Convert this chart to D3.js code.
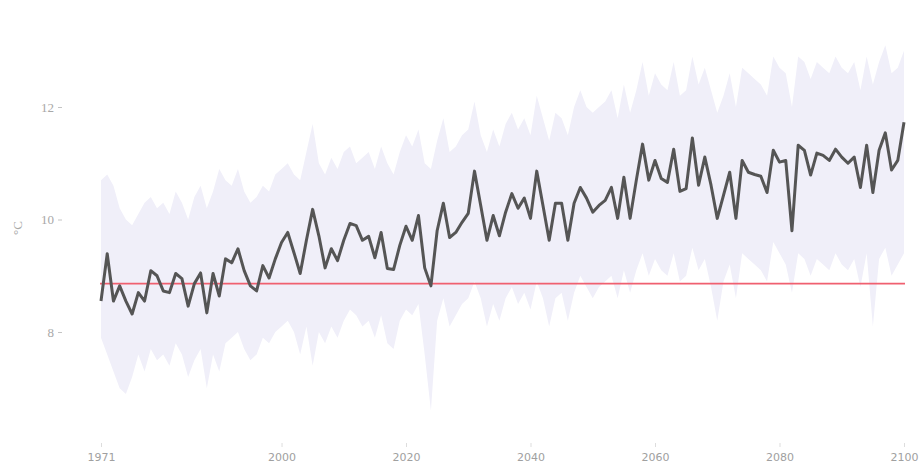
<!DOCTYPE html>
<html>
<head>
<meta charset="utf-8">
<script src="https://cdn.jsdelivr.net/npm/d3@7"></script>
<style>
  body { margin: 0; background: #fff; }
  #chart svg { display: block; }
</style>
</head>
<body>
<div id="chart"></div>
<script>
// yearly mean temperature (°C), 1971 - 2100
const firstYear = 1971;
const meanTemp = [
  8.55, 9.39, 8.55, 8.82, 8.55, 8.32, 8.70, 8.55, 9.09, 9.00,
  8.73, 8.70, 9.04, 8.95, 8.46, 8.86, 9.05, 8.34, 9.04, 8.64,
  9.30, 9.23, 9.48, 9.09, 8.82, 8.73, 9.18, 8.96, 9.30, 9.59,
  9.77, 9.41, 9.04, 9.63, 10.18, 9.71, 9.14, 9.48, 9.27, 9.63,
  9.93, 9.89, 9.63, 9.70, 9.32, 9.77, 9.13, 9.11, 9.54, 9.88,
  9.63, 10.07, 9.14, 8.82, 9.80, 10.29, 9.68, 9.77, 9.95, 10.11,
  10.86, 10.25, 9.63, 10.07, 9.71, 10.13, 10.46, 10.20, 10.38, 10.02,
  10.86, 10.25, 9.63, 10.29, 10.29, 9.63, 10.29, 10.57, 10.38, 10.13,
  10.25, 10.34, 10.57, 10.02, 10.75, 10.02, 10.70, 11.34, 10.70, 11.05,
  10.73, 10.66, 11.25, 10.50, 10.55, 11.45, 10.61, 11.11, 10.61, 10.02,
  10.43, 10.84, 10.02, 11.05, 10.84, 10.80, 10.77, 10.48, 11.23, 11.02,
  11.05, 9.80, 11.32, 11.23, 10.79, 11.18, 11.14, 11.05, 11.25, 11.11,
  11.00, 11.11, 10.57, 11.32, 10.48, 11.23, 11.54, 10.88, 11.05, 11.73
];

// ensemble spread (max / min)
const bandHigh = [
  10.7, 10.8, 10.6, 10.2, 10.0, 9.9, 10.1, 10.3, 10.4, 10.2,
  10.3, 10.1, 10.5, 10.3, 10.0, 10.4, 10.6, 10.2, 10.5, 10.9,
  10.7, 10.6, 10.9, 10.5, 10.3, 10.4, 10.6, 10.5, 10.8, 10.9,
  11.0, 10.8, 10.7, 11.2, 11.7, 11.0, 10.8, 11.1, 10.9, 11.2,
  11.3, 11.0, 11.1, 11.2, 10.9, 11.3, 11.0, 10.8, 11.2, 11.5,
  11.3, 11.6, 11.0, 10.9, 11.4, 11.8, 11.2, 11.3, 11.5, 11.6,
  12.1, 11.5, 11.2, 11.6, 11.3, 11.7, 11.9, 11.6, 11.8, 11.5,
  12.2, 11.8, 11.4, 11.9, 11.8, 11.5, 12.0, 12.3, 12.0, 11.9,
  12.0, 12.1, 12.3, 11.8, 12.4, 11.9, 12.3, 12.8, 12.2, 12.6,
  12.4, 12.3, 12.8, 12.2, 12.3, 12.9, 12.4, 12.7, 12.3, 11.9,
  12.2, 12.6, 12.0, 12.7, 12.6, 12.5, 12.4, 12.2, 12.9, 12.7,
  12.6, 12.0, 12.9, 12.8, 12.5, 12.8, 12.7, 12.6, 12.9, 12.7,
  12.6, 12.8, 12.3, 12.9, 12.4, 12.8, 13.1, 12.6, 12.7, 13.0
];
const bandLow = [
  7.9, 7.6, 7.3, 7.0, 6.9, 7.2, 7.6, 7.3, 7.7, 7.5,
  7.6, 7.4, 7.8, 7.6, 7.2, 7.5, 7.7, 7.0, 7.6, 7.3,
  7.8, 7.9, 8.0, 7.7, 7.5, 7.6, 7.9, 7.8, 8.0, 8.1,
  8.2, 8.0, 7.6, 8.1, 7.4, 8.0, 7.8, 8.1, 7.9, 8.2,
  8.4, 8.3, 8.1, 8.2, 7.9, 8.3, 7.8, 7.7, 8.2, 8.4,
  8.3, 8.5, 7.6, 6.6, 8.2, 8.6, 8.1, 8.3, 8.5, 8.6,
  8.9, 8.6, 8.1, 8.5, 8.2, 8.6, 8.8, 8.5, 8.7, 8.4,
  8.9, 8.6, 8.1, 8.6, 8.7, 8.2, 8.7, 9.0, 8.8, 8.6,
  8.8, 8.9, 9.0, 8.6, 9.1, 8.7, 9.1, 9.4, 9.0, 9.3,
  9.1, 9.0, 9.4, 8.9, 9.0, 9.5, 9.1, 9.3, 8.8, 8.2,
  8.9, 9.2, 8.6, 9.4, 9.3, 9.2, 9.1, 8.9, 9.6, 9.4,
  9.2, 8.7, 9.4, 9.3, 9.0, 9.3, 9.2, 9.1, 9.4, 9.2,
  9.1, 9.3, 8.8, 9.4, 8.1, 9.3, 9.5, 9.0, 9.2, 9.4
];

// reference level (1971-2000 mean)
const baseline = 8.86;

const xTicks = [1971, 2000, 2020, 2040, 2060, 2080, 2100];
const yTicks = [8, 10, 12];

const data = meanTemp.map((v, i) => ({year: firstYear + i, value: v, hi: bandHigh[i], lo: bandLow[i]}));

const W = 922, H = 468;

const svg = d3.select("#chart")
  .append("svg")
  .attr("width", W)
  .attr("height", H);

const x = d3.scaleLinear()
  .domain([1971, 2100])
  .range([101, 904]);

const y = d3.scaleLinear()
  .domain([8, 12])
  .range([332, 107]);

// spread band
svg.append("path")
  .datum(data)
  .attr("fill", "#f0eff9")
  .attr("d", d3.area()
    .x(d => x(d.year))
    .y0(d => y(d.lo))
    .y1(d => y(d.hi)));

// baseline
svg.append("line")
  .attr("x1", x(1971) - 1)
  .attr("x2", x(2100) + 1)
  .attr("y1", y(baseline))
  .attr("y2", y(baseline))
  .attr("stroke", "#f06070")
  .attr("stroke-width", 1.6);

// mean line
svg.append("path")
  .datum(data)
  .attr("fill", "none")
  .attr("stroke", "#555555")
  .attr("stroke-width", 3)
  .attr("stroke-linejoin", "round")
  .attr("d", d3.line()
    .x(d => x(d.year))
    .y(d => y(d.value)));

// X axis
const xAxis = svg.append("g")
  .attr("transform", "translate(0,443)")
  .call(d3.axisBottom(x).tickValues(xTicks).tickFormat(d3.format("d")).tickSize(4).tickPadding(6));
xAxis.select(".domain").remove();
xAxis.selectAll("line").attr("stroke", "#dddddd");
xAxis.selectAll("text")
  .attr("fill", "#a0a0a0")
  .style("font-family", "'DejaVu Sans', sans-serif")
  .style("font-size", "11px");

// Y axis
const yAxis = svg.append("g")
  .attr("transform", "translate(62,0)")
  .call(d3.axisLeft(y).tickValues(yTicks).tickFormat(d3.format("d")).tickSize(4).tickPadding(4));
yAxis.select(".domain").remove();
yAxis.selectAll("line").attr("stroke", "#c4c4c4");
yAxis.selectAll("text")
  .attr("fill", "#a8a8a8")
  .style("font-family", "'Liberation Serif', serif")
  .style("font-size", "13px");

svg.append("text")
  .attr("transform", "translate(22,228) rotate(-90)")
  .attr("text-anchor", "middle")
  .attr("fill", "#a8a8a8")
  .style("font-family", "'Liberation Serif', serif")
  .style("font-size", "13px")
  .text("°C");
</script>
</body>
</html>
